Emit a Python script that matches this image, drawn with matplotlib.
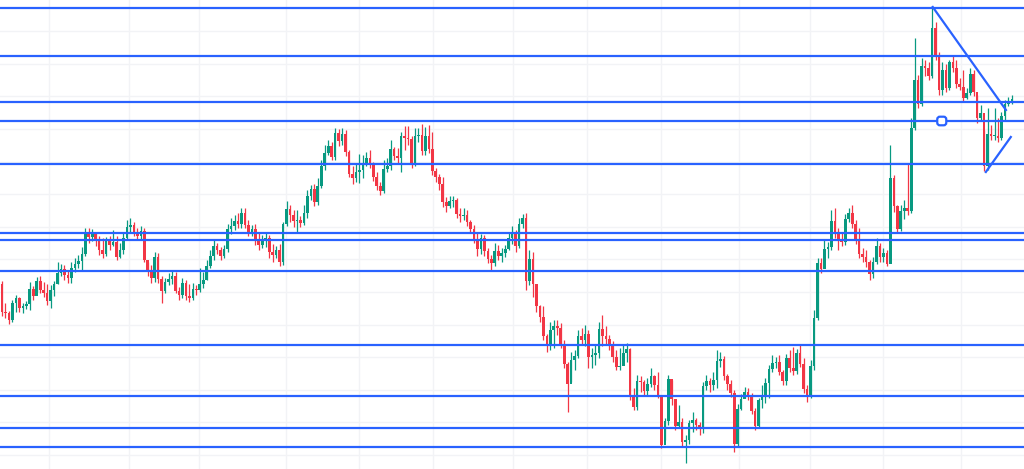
import numpy as np
import matplotlib
matplotlib.use("Agg")
import matplotlib.pyplot as plt
from matplotlib.patches import FancyBboxPatch

# Price data (arbitrary price units)
first_open = 216
closes = [
    188, 187, 180, 197, 202, 192, 194, 196, 211, 204,
    219, 210, 207, 199, 210, 216, 227, 231, 225, 222,
    232, 236, 239, 246, 267, 263, 266, 260, 250, 246,
    259, 255, 258, 243, 250, 262, 273, 275, 268, 264,
    269, 240, 230, 222, 243, 221, 209, 218, 221, 224,
    209, 205, 217, 204, 202, 211, 210, 216, 220, 234,
    244, 254, 250, 244, 251, 271, 274, 279, 276, 287,
    275, 268, 271, 259, 255, 259, 262, 248, 245, 250,
    238, 276, 291, 285, 279, 280, 277, 287, 304, 311,
    298, 314, 334, 347, 354, 343, 367, 359, 366, 348,
    326, 322, 328, 330, 337, 342, 336, 323, 314, 309,
    331, 334, 351, 344, 342, 364, 362, 361, 336, 364,
    365, 349, 364, 351, 329, 323, 316, 298, 294, 299,
    300, 286, 284, 285, 278, 271, 261, 251, 262, 249,
    241, 237, 249, 244, 247, 251, 262, 268, 254, 276,
    282, 219, 241, 216, 194, 183, 164, 154, 170, 174,
    172, 156, 136, 116, 140, 144, 164, 160, 166, 143,
    145, 147, 171, 164, 161, 154, 143, 133, 134, 147,
    151, 104, 93, 119, 118, 109, 116, 124, 115, 104,
    55, 79, 121, 101, 74, 78, 58, 60, 77, 80,
    75, 71, 114, 119, 115, 120, 139, 141, 124, 116,
    107, 56, 91, 101, 108, 105, 89, 74, 100, 104,
    117, 131, 137, 138, 128, 119, 142, 132, 129, 147,
    136, 111, 103, 134, 182, 237, 231, 251, 253, 279,
    268, 259, 258, 281, 287, 276, 259, 246, 243, 238,
    226, 238, 254, 243, 247, 236, 322, 294, 271, 289,
    292, 289, 372, 420, 396, 434, 432, 424, 472, 445,
    410, 430, 412, 438, 432, 416, 413, 402, 407, 426,
    408, 382, 387, 334, 366, 364, 364, 362, 384, 396,
    399, 401,
]
highs = [
    219, 197, 189, 200, 205, 203, 197, 199, 218, 214,
    223, 224, 218, 216, 215, 219, 238, 236, 235, 230,
    238, 242, 245, 253, 272, 272, 271, 268, 264, 262,
    263, 264, 270, 264, 257, 267, 280, 282, 278, 272,
    274, 272, 238, 235, 248, 247, 224, 222, 227, 230,
    228, 213, 222, 220, 216, 217, 215, 232, 228, 240,
    250, 260, 257, 253, 255, 276, 282, 285, 287, 292,
    292, 280, 275, 276, 268, 265, 268, 265, 256, 254,
    256, 278, 299, 295, 290, 290, 284, 295, 310, 315,
    316, 322, 340, 355, 360, 358, 372, 371, 372, 370,
    350, 334, 337, 346, 345, 348, 350, 338, 328, 318,
    340, 342, 360, 353, 352, 368, 374, 374, 364, 372,
    372, 376, 373, 375, 368, 332, 326, 323, 303, 304,
    304, 302, 292, 292, 290, 280, 275, 268, 266, 265,
    252, 245, 257, 255, 252, 255, 268, 274, 270, 282,
    286, 287, 250, 248, 216, 195, 194, 166, 178, 180,
    180, 177, 160, 138, 148, 150, 170, 172, 175, 170,
    152, 155, 178, 185, 174, 165, 159, 150, 152, 155,
    157, 152, 112, 125, 124, 120, 122, 132, 125, 128,
    104, 82, 125, 120, 100, 95, 82, 65, 80, 88,
    82, 78, 118, 125, 122, 128, 150, 148, 144, 126,
    120, 110, 96, 106, 113, 112, 107, 92, 102, 115,
    122, 135, 145, 143, 145, 130, 146, 150, 153, 151,
    155, 142, 115, 140, 190, 242, 242, 260, 258, 290,
    292, 272, 268, 286, 292, 295, 280, 272, 252, 250,
    240, 243, 262, 257, 252, 250, 355, 325, 295, 295,
    300, 337, 382, 462, 425, 442, 440, 438, 493, 478,
    448, 438, 436, 440, 445, 440, 422, 430, 412, 432,
    430, 405, 395, 370, 392, 375, 392, 382, 388, 400,
    403, 405,
]
lows = [
    184, 182, 176, 178, 188, 188, 187, 191, 190, 200,
    208, 207, 203, 195, 192, 204, 216, 224, 220, 217,
    217, 228, 232, 230, 244, 257, 259, 254, 245, 242,
    244, 250, 254, 240, 242, 246, 260, 268, 264, 260,
    260, 238, 224, 217, 218, 217, 197, 207, 215, 216,
    207, 200, 202, 200, 198, 200, 205, 208, 212, 220,
    232, 240, 246, 240, 242, 248, 266, 270, 272, 272,
    272, 264, 264, 255, 250, 252, 253, 242, 238, 242,
    234, 235, 274, 278, 273, 268, 273, 275, 282, 300,
    294, 295, 312, 330, 345, 340, 340, 354, 355, 344,
    323, 316, 318, 317, 322, 334, 332, 319, 310, 305,
    307, 328, 330, 340, 337, 328, 350, 355, 332, 334,
    358, 345, 345, 347, 325, 318, 310, 293, 288, 292,
    293, 282, 278, 280, 274, 268, 257, 244, 246, 244,
    237, 230, 234, 240, 238, 243, 250, 256, 248, 252,
    272, 210, 215, 203, 188, 178, 160, 148, 150, 152,
    165, 152, 132, 88, 118, 130, 142, 155, 154, 132,
    132, 135, 142, 154, 155, 150, 138, 130, 130, 135,
    138, 100, 90, 90, 108, 105, 105, 113, 110, 102,
    52, 60, 75, 95, 70, 72, 53, 37, 56, 68,
    70, 65, 67, 110, 108, 110, 112, 133, 120, 110,
    103, 48, 54, 90, 102, 100, 86, 70, 72, 92,
    97, 102, 128, 132, 125, 115, 115, 128, 125, 126,
    133, 107, 98, 102, 130, 180, 227, 232, 242, 250,
    262, 250, 254, 255, 278, 272, 256, 242, 238, 233,
    220, 222, 236, 238, 238, 234, 244, 288, 268, 269,
    281, 285, 287, 370, 392, 394, 424, 420, 422, 440,
    405, 405, 408, 410, 428, 412, 410, 398, 401, 405,
    404, 377, 379, 329, 330, 360, 360, 358, 360, 380,
    394, 396,
]

# horizontal support / resistance levels drawn on the chart
levels = [492, 444, 398, 379, 336, 267, 260, 229, 155, 104, 72, 53]

# triangle drawing (candle index, price)
upper_line_x = [268.2, 289.3]
upper_line_y = [493, 390]
lower_line_x = [283.5, 290.7]
lower_line_y = [328, 363]
anchor_x = 270.8
anchor_y = 379

# date grid (candle index where a new period starts)
period_starts = [13.5, 36.6, 56.8, 81.8, 102.9, 124.2, 147.3, 168.6,
                 189.9, 212.4, 232.9, 253.9, 276.4]

closes = np.array(closes, dtype=float)
highs = np.array(highs, dtype=float)
lows = np.array(lows, dtype=float)
opens = np.concatenate([[first_open], closes[:-1]])
idx = np.arange(len(closes))

up_color = "#089981"
down_color = "#f23645"
line_color = "#2962ff"

fig = plt.figure(figsize=(10.24, 4.69), dpi=100)
ax = fig.add_axes([0, 0, 1, 1])

# faint background grid
for p in period_starts:
    ax.axvline(p, color="#f2f3f6", lw=1.0, zorder=0)
for g in np.arange(45, 480, 32.6):
    ax.axhline(g, color="#f2f3f6", lw=1.0, zorder=0)

colors = np.where(closes >= opens, up_color, down_color)
body = closes - opens
body = np.where(np.abs(body) < 1.0, 1.0, body)

ax.vlines(idx, lows, highs, colors=colors, lw=0.9, zorder=2)
ax.bar(idx, body, bottom=opens, width=0.76, color=colors, zorder=3, linewidth=0)

for lv in levels:
    ax.axhline(lv, color=line_color, lw=1.6, zorder=4)

ax.plot(upper_line_x, upper_line_y, color=line_color, lw=1.6, zorder=5)
ax.plot(lower_line_x, lower_line_y, color=line_color, lw=1.6, zorder=5)

# rounded handle of the drawing (about 10 px square)
handle = FancyBboxPatch((anchor_x - 1.3, anchor_y - 4.3), 2.6, 8.6,
                        boxstyle="round,pad=0,rounding_size=0.75",
                        facecolor="white", edgecolor=line_color, lw=1.6,
                        zorder=6, mutation_aspect=3.47)
ax.add_patch(handle)

ax.set_xlim(-0.58, 294.5)
ax.set_ylim(31, 500)
ax.set_xticks([])
ax.set_yticks([])
for s in ax.spines.values():
    s.set_visible(False)

fig.savefig("out.png", dpi=100, facecolor="white")
